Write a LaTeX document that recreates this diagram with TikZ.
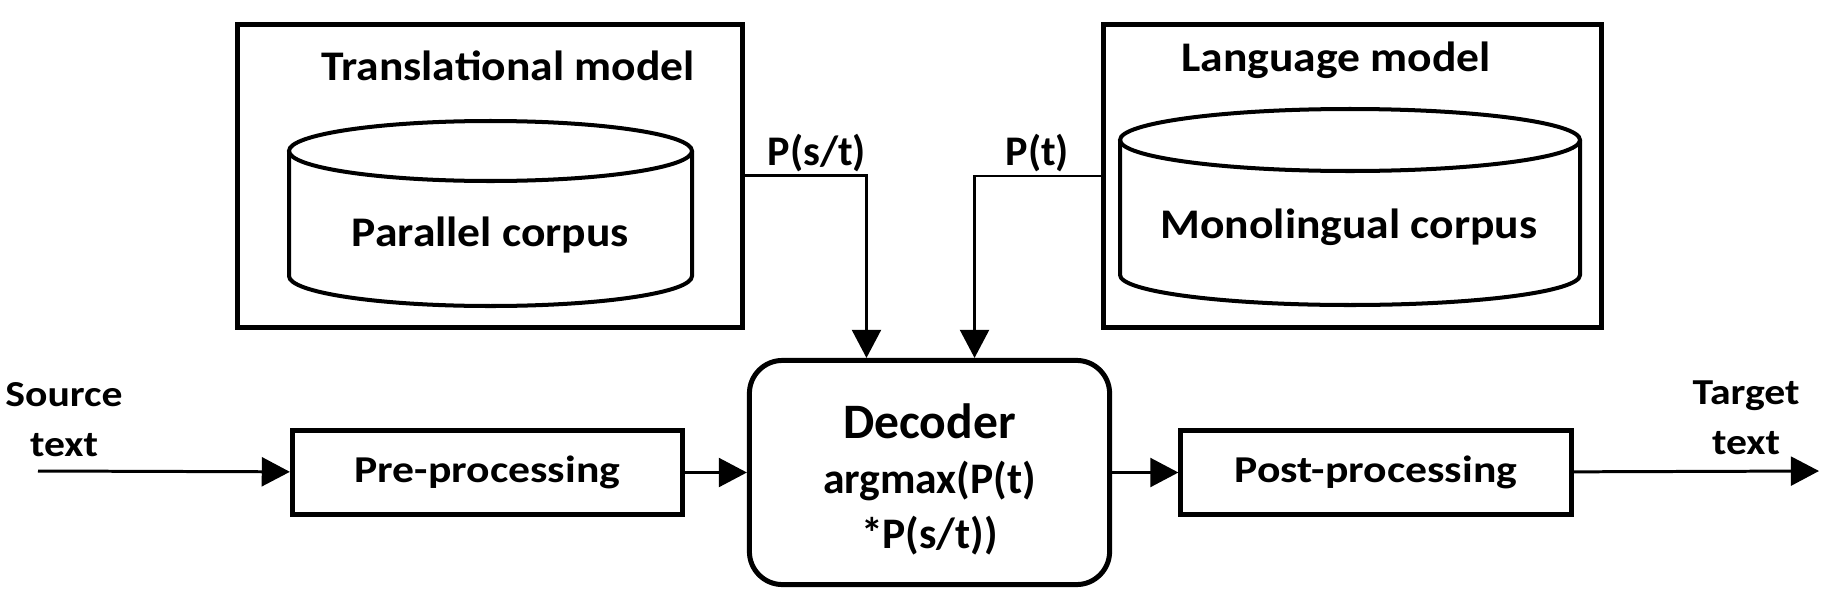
\documentclass[tikz,border=0pt]{standalone}
\usepackage{fontspec}
\setmainfont{Carlito}
\usetikzlibrary{arrows.meta}
\begin{document}
\begin{tikzpicture}[x=0.01cm, y=-0.01cm,
    modelbox/.style={draw, line width=1.42pt, inner sep=0pt, minimum height=3.03cm},
    procbox/.style={draw, line width=1.42pt, inner sep=0pt, minimum width=3.9cm, minimum height=0.84cm, font=\fontsize{10.8}{12}\selectfont\bfseries\addfontfeature{FakeStretch=1.15}},
    decbox/.style={draw, line width=1.42pt, rounded corners=0.33cm, inner sep=0pt, minimum width=3.6cm, minimum height=2.24cm, align=center, font=\fontsize{12.4}{14.6}\selectfont\bfseries},
    cyl/.style={line width=1.14pt},
    title/.style={anchor=base, inner sep=0pt, font=\fontsize{12}{14}\selectfont\bfseries\addfontfeature{FakeStretch=1.08}},
    plabel/.style={anchor=base west, inner sep=0pt, font=\fontsize{12}{14}\selectfont\bfseries},
    iotext/.style={align=center, inner sep=0pt, font=\fontsize{10.4}{14.2}\selectfont\bfseries\addfontfeature{FakeStretch=1.14}},
    conn/.style={line width=0.85pt, -{Triangle[length=8pt, width=8.2pt]}}]
    \useasboundingbox (0,0) rectangle (1828,612);
    \node[modelbox, minimum width=5.05cm] (trans) at (490,175.75) {};
    \node[modelbox, minimum width=4.98cm] (lang) at (1352.5,176) {};
    \node[title] (transttl) at (508,80) {Translational model};
    \node[title] (langttl) at (1336,71) {Language model};
    \draw[cyl] (289,151) -- (289,276) arc[start angle=180, end angle=0, x radius=201.5, y radius=30] -- (692,151);
    \draw[cyl] (490.5,151) ellipse[x radius=201.5, y radius=30];
    \draw[cyl] (1120,140) -- (1120,275) arc[start angle=180, end angle=0, x radius=230, y radius=30] -- (1580,140);
    \draw[cyl] (1350,140) ellipse[x radius=230, y radius=31];
    \node[title] (parc) at (490.5,246) {Parallel corpus};
    \node[title] (monoc) at (1349,238) {Monolingual corpus};
    \foreach \nm/\x/\txt in {pre/487.5/Pre-processing, post/1376/Post-processing}
        \node[procbox] (\nm) at (\x,472.5) {\txt};
    \node[decbox] (dec) at (929.5,472.5) {{\fontsize{14.1}{17}\selectfont\rule{0pt}{14pt}Decoder}\\[1pt]argmax(P(t)\\[1pt]*P(s/t))};
    \node[iotext] (src) at (64,420) {Source\\text};
    \node[iotext] (tgt) at (1746,418) {Target\\text};
    \coordinate (srcin) at (38,471);
    \coordinate (tgtout) at (1819,471);
    \draw[conn] (srcin) -- (pre);
    \draw[conn] (pre) -- (dec);
    \draw[conn] (dec) -- (post);
    \draw[conn] (post) -- (tgtout);
    \draw[conn] (trans.east) -| ([xshift=1.195cm]dec.north west);
    \draw[conn] (lang.west) -| ([xshift=2.275cm]dec.north west);
    \node[plabel] (pst) at (767,165) {P(s/t)};
    \node[plabel] (pt) at (1005,165) {P(t)};
\end{tikzpicture}
\end{document}
